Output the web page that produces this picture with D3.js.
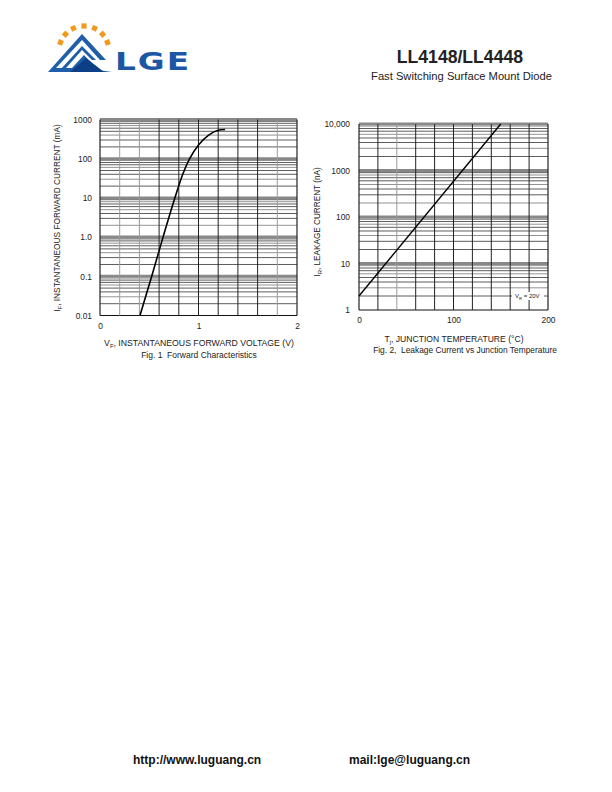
<!DOCTYPE html>
<html><head><meta charset="utf-8">
<script src="https://cdn.jsdelivr.net/npm/d3@7/dist/d3.min.js"></script>
<style>body{margin:0;background:#fff}svg{display:block}text{font-family:"Liberation Sans",Arial,sans-serif}</style>
</head><body>
<script>
// ---- data ----
const fig1Voltage = [0.406, 0.525, 0.64, 0.76, 0.84, 0.91, 1.0, 1.1, 1.2, 1.27];
const fig1Current = [0.01, 0.1, 1, 10, 40, 100, 225, 395, 530, 558];
const fig1XTicks = [0, 1, 2];
const fig1YTicks = [0.01, 0.1, 1, 10, 100, 1000];
const fig1YLabels = ["0.01", "0.1", "1.0", "10", "100", "1000"];
const fig2Temp = [0, 150];
const fig2Leak = [2, 10000];
const fig2XTicks = [0, 100, 200];
const fig2YTicks = [1, 10, 100, 1000, 10000];
const fig2YLabels = ["1", "10", "100", "1000", "10,000"];

const W = 612, H = 792;
const svg = d3.select("body").append("svg").attr("width", W).attr("height", H);

// ---- header logo ----
const logo = svg.append("g");
const arcC = [84, 51], arcR = 25;
[200, 222, 245, 270, 295, 318, 340].forEach(a => {
  const r = a * Math.PI / 180;
  const cx = arcC[0] + arcR * Math.cos(r), cy = arcC[1] + arcR * Math.sin(r);
  logo.append("rect").attr("x", cx - 2.6).attr("y", cy - 2.6).attr("width", 5.2).attr("height", 5.2)
    .attr("fill", "#f29a1f").attr("transform", `rotate(${a + 90},${cx},${cy})`);
});
logo.append("path").attr("d", "M48,72 L82,34 L106,60 L100,60 L82,40 L56,68 L72,68 L84,55 L98,70 L112,72 Z").attr("fill", "#1f5ea8");
logo.append("path").attr("d", "M60,70 L82,46 L96,60 L92,60 L82,50 L66,68 Z").attr("fill", "#1f5ea8");
logo.append("path").attr("d", "M70,72 L86,58 L104,72 Z").attr("fill", "#0c3f86");
logo.append("text").attr("x", 115).attr("y", 70).attr("font-size", 25).attr("font-weight", "bold")
  .attr("fill", "#1c57a6").attr("letter-spacing", 1.5).style("font-family", "'DejaVu Sans',sans-serif")
  .attr("textLength", 76).attr("lengthAdjust", "spacingAndGlyphs").text("LGE");

svg.append("text").attr("x", 523).attr("y", 63).attr("text-anchor", "end").attr("font-size", 17.6)
  .attr("font-weight", "bold").attr("fill", "#222").text("LL4148/LL4448");
svg.append("text").attr("x", 552).attr("y", 80).attr("text-anchor", "end").attr("font-size", 11.2)
  .attr("fill", "#222").text("Fast Switching Surface Mount Diode");

// ---- generic log chart ----
function drawChart(o) {
  const g = svg.append("g");
  const x = d3.scaleLinear().domain(o.xDomain).range([o.left, o.right]);
  const y = d3.scaleLog().domain(o.yDomain).range([o.bottom, o.top]);
  const d0 = Math.round(Math.log10(o.yDomain[0])), d1 = Math.round(Math.log10(o.yDomain[1]));
  const minors = [];
  for (let d = d0; d < d1; d++) for (let k = 2; k <= 9; k++) minors.push(k * Math.pow(10, d));
  g.selectAll(".mn").data(minors).join("line")
    .attr("x1", o.left).attr("x2", o.right).attr("y1", v => y(v)).attr("y2", v => y(v))
    .attr("stroke", (v, i) => (i % 3 === 1 ? "#777" : "#333")).attr("stroke-width", 0.8);
  const majors = d3.range(d0, d1 + 1).map(d => Math.pow(10, d));
  g.selectAll(".mj").data(majors).join("line")
    .attr("x1", o.left).attr("x2", o.right).attr("y1", v => y(v)).attr("y2", v => y(v))
    .attr("stroke", (v, i) => (i === 0 ? "#111" : "#888")).attr("stroke-width", (v, i) => (i === 0 ? 1 : 3));
  const vx = d3.range(0, 11).map(i => o.xDomain[0] + i * (o.xDomain[1] - o.xDomain[0]) / 10);
  g.selectAll(".vx").data(vx).join("line")
    .attr("x1", v => x(v)).attr("x2", v => x(v)).attr("y1", o.top).attr("y2", o.bottom)
    .attr("stroke", (v, i) => (o.grayV.includes(i) ? "#9a9a9a" : "#222")).attr("stroke-width", (v, i) => (i === 0 || i === 10 ? 1.2 : 1));
  const xa = d3.axisBottom(x).tickValues(o.xTicks).tickSize(0).tickPadding(o.xPad).tickFormat(d3.format("d"));
  const xg = g.append("g").attr("transform", `translate(0,${o.bottom})`).call(xa);
  xg.select(".domain").remove();
  xg.selectAll("text").attr("font-size", 8.4).attr("fill", "#222").style("font-family", "'Liberation Sans',Arial,sans-serif");
  const ya = d3.axisLeft(y).tickValues(o.yTicks).tickSize(0).tickPadding(o.yPad).tickFormat((v, i) => o.yLabels[i]);
  const yg = g.append("g").attr("transform", `translate(${o.left},0)`).call(ya);
  yg.select(".domain").remove();
  yg.selectAll("text").attr("font-size", 8.4).attr("fill", "#222").style("font-family", "'Liberation Sans',Arial,sans-serif");
  return { g, x, y };
}

// ---- Fig 1 ----
const c1 = drawChart({
  left: 100, right: 297, top: 119.5, bottom: 315.5, xDomain: [0, 2], yDomain: [0.01, 1000],
  xTicks: fig1XTicks, yTicks: fig1YTicks, yLabels: fig1YLabels, xPad: 8, yPad: 8, grayV: [1, 2, 9]
});
const pts1 = fig1Voltage.map((v, i) => [v, fig1Current[i]]);
c1.g.append("path").datum(pts1)
  .attr("d", d3.line().x(d => c1.x(d[0])).y(d => c1.y(d[1])).curve(d3.curveMonotoneX))
  .attr("fill", "none").attr("stroke", "#000").attr("stroke-width", 1.6);

const t1 = svg.append("text").attr("transform", "translate(60,218) rotate(-90)").attr("text-anchor", "middle")
  .attr("font-size", 8.3).attr("fill", "#222");
t1.append("tspan").text("I");
t1.append("tspan").attr("font-size", 6).attr("dy", 2).text("F");
t1.append("tspan").attr("dy", -2).text(", INSTANTANEOUS FORWARD CURRENT (mA)");
const t2 = svg.append("text").attr("x", 199).attr("y", 346).attr("text-anchor", "middle")
  .attr("font-size", 8.7).attr("fill", "#222");
t2.append("tspan").text("V");
t2.append("tspan").attr("font-size", 6).attr("dy", 2).text("F");
t2.append("tspan").attr("dy", -2).text(", INSTANTANEOUS FORWARD VOLTAGE (V)");
svg.append("text").attr("x", 199).attr("y", 358).attr("text-anchor", "middle").attr("font-size", 8.5)
  .attr("fill", "#222").attr("xml:space", "preserve").text("Fig. 1  Forward Characteristics");

// ---- Fig 2 ----
const c2 = drawChart({
  left: 359, right: 548, top: 124, bottom: 310, xDomain: [0, 200], yDomain: [1, 10000],
  xTicks: fig2XTicks, yTicks: fig2YTicks, yLabels: fig2YLabels, xPad: 7, yPad: 9, grayV: [2]
});
const pts2 = fig2Temp.map((t, i) => [t, fig2Leak[i]]);
c2.g.append("path").datum(pts2)
  .attr("d", d3.line().x(d => c2.x(d[0])).y(d => c2.y(d[1])))
  .attr("fill", "none").attr("stroke", "#000").attr("stroke-width", 1.4);
const lblY = c2.y(2);
c2.g.append("rect").attr("x", 512).attr("y", lblY - 4).attr("width", 32).attr("height", 8).attr("fill", "#fff");
const vr = c2.g.append("text").attr("x", 515).attr("y", lblY + 2).attr("font-size", 6).attr("fill", "#222");
vr.append("tspan").text("V");
vr.append("tspan").attr("font-size", 4.2).attr("dy", 1.5).text("R");
vr.append("tspan").attr("dy", -1.5).text(" = 20V");

const t3 = svg.append("text").attr("transform", "translate(320,222) rotate(-90)").attr("text-anchor", "middle")
  .attr("font-size", 8.2).attr("fill", "#222");
t3.append("tspan").text("I");
t3.append("tspan").attr("font-size", 6).attr("dy", 2).text("R");
t3.append("tspan").attr("dy", -2).text(", LEAKAGE CURRENT (nA)");
const t4 = svg.append("text").attr("x", 454).attr("y", 342).attr("text-anchor", "middle")
  .attr("font-size", 8.6).attr("fill", "#222");
t4.append("tspan").text("T");
t4.append("tspan").attr("font-size", 6).attr("dy", 2).text("j");
t4.append("tspan").attr("dy", -2).text(", JUNCTION TEMPERATURE (°C)");
svg.append("text").attr("x", 465).attr("y", 353).attr("text-anchor", "middle").attr("font-size", 8.4)
  .attr("fill", "#222").attr("xml:space", "preserve").text("Fig. 2,  Leakage Current vs Junction Temperature");

// ---- footer ----
svg.append("text").attr("x", 133).attr("y", 764).attr("font-size", 12).attr("font-weight", "bold")
  .attr("fill", "#111").text("http://www.luguang.cn");
svg.append("text").attr("x", 349).attr("y", 764).attr("font-size", 12).attr("font-weight", "bold")
  .attr("fill", "#111").text("mail:lge@luguang.cn");
</script>
</body></html>
